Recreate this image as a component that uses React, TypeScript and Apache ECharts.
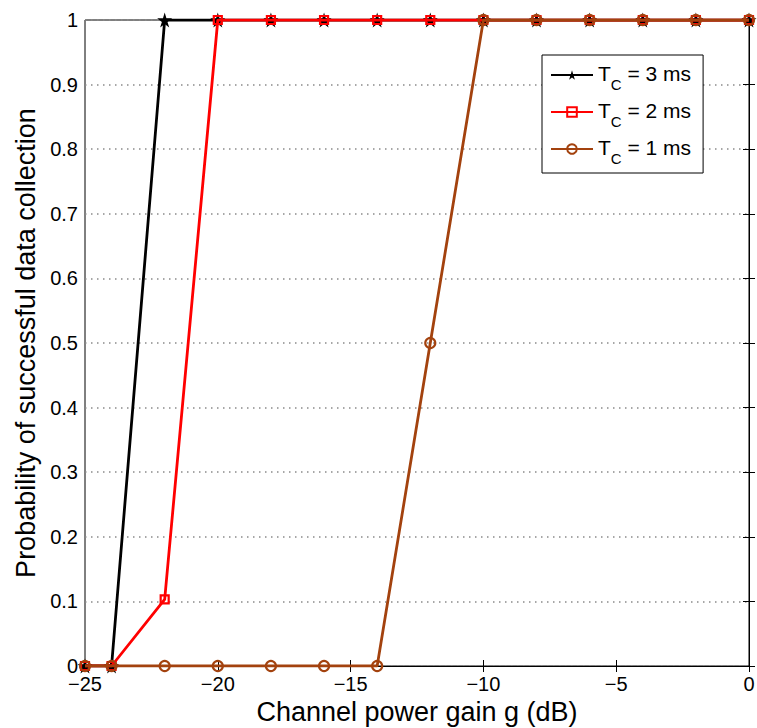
import React, { useEffect, useRef } from "react";
import * as echarts from "echarts";

const xValues = [-25, -24, -22, -20, -18, -16, -14, -12, -10, -8, -6, -4, -2, 0];
const tc3 = [0, 0, 1, 1, 1, 1, 1, 1, 1, 1, 1, 1, 1, 1];
const tc2 = [0, 0, 0.103, 1, 1, 1, 1, 1, 1, 1, 1, 1, 1, 1];
const tc1 = [0, 0, 0, 0, 0, 0, 0, 0.5, 1, 1, 1, 1, 1, 1];
const seriesNames = ["3 ms", "2 ms", "1 ms"];
const xTitle = "Channel power gain g (dB)";
const yTitle = "Probability of successful data collection";

const BLACK = "#000000";
const RED = "#ff0000";
const BROWN = "#a3420e";
const CLEAR = "rgba(255,255,255,0)";
const STAR = "path://M50,0 L61,35 L98,35 L68,57 L79,91 L50,70 L21,91 L32,57 L2,35 L39,35 Z";
const FONT = "Liberation Sans, Arial, Helvetica, sans-serif";

const pairs = (ys: number[]) => xValues.map((x, i) => [x, ys[i]]);
const minus = (v: number) => String(v).replace("-", "\u2212");

export default function App() {
  const ref = useRef<HTMLDivElement>(null);
  useEffect(() => {
    const chart = echarts.init(ref.current!, undefined, { renderer: "svg" });
    const axisCommon = {
      axisLine: { show: true, lineStyle: { color: BLACK, width: 1 } },
      axisTick: { show: true, inside: true, length: 6, lineStyle: { color: BLACK } },
    };
    chart.setOption({
      animation: false,
      backgroundColor: "#ffffff",
      textStyle: { fontFamily: FONT },
      grid: {
        left: 85,
        right: 8,
        top: 20,
        bottom: 62,
        show: true,
        borderColor: BLACK,
        borderWidth: 1,
        containLabel: false,
        outerBoundsMode: "none",
      },
      xAxis: [
        {
          type: "value",
          min: -25,
          max: 0,
          interval: 5,
          ...axisCommon,
          axisLabel: { color: BLACK, fontSize: 20, margin: 8, formatter: minus, fontFamily: FONT },
          splitLine: { show: false },
          name: xTitle,
          nameLocation: "middle",
          nameGap: 29,
          nameTextStyle: { color: BLACK, fontSize: 27, fontFamily: FONT, verticalAlign: "top" },
        },
        {
          type: "value",
          position: "top",
          min: -25,
          max: 0,
          interval: 5,
          ...axisCommon,
          axisLabel: { show: false },
          splitLine: { show: false },
        },
      ],
      yAxis: [
        {
          type: "value",
          min: 0,
          max: 1,
          interval: 0.1,
          ...axisCommon,
          axisLabel: {
            color: BLACK,
            fontSize: 20,
            margin: 7,
            fontFamily: FONT,
            formatter: (v: number) => (v === 0 ? "0" : v === 1 ? "1" : v.toFixed(1)),
          },
          splitLine: { show: true, lineStyle: { color: "#8a8a8a", type: [1.5, 4.5], width: 1.5 } },
          name: yTitle,
          nameLocation: "middle",
          nameGap: 43,
          nameTextStyle: { color: BLACK, fontSize: 27, fontFamily: FONT },
        },
        {
          type: "value",
          position: "right",
          min: 0,
          max: 1,
          interval: 0.1,
          ...axisCommon,
          axisLabel: { show: false },
          splitLine: { show: false },
        },
      ],
      legend: {
        left: 542,
        top: 55,
        orient: "vertical",
        backgroundColor: "#ffffff",
        borderColor: BLACK,
        borderWidth: 1,
        borderRadius: 0,
        padding: [8, 12, 7, 8],
        itemGap: 8,
        itemWidth: 42,
        itemHeight: 12,
        formatter: (name: string) => `{t|T}{s|C}{t| = ${name}}`,
        textStyle: {
          rich: {
            t: { fontSize: 21, color: BLACK, fontFamily: FONT, lineHeight: 24, verticalAlign: "top" },
            s: { fontSize: 15, color: BLACK, fontFamily: FONT, lineHeight: 15, verticalAlign: "top", padding: [14, 0, 0, 0] },
          },
        },
        data: [
          { name: seriesNames[0] },
          { name: seriesNames[1], itemStyle: { color: CLEAR, borderColor: RED, borderWidth: 2 } },
          { name: seriesNames[2], itemStyle: { color: CLEAR, borderColor: BROWN, borderWidth: 2 } },
        ],
      },
      series: [
        {
          name: seriesNames[0],
          type: "line",
          data: pairs(tc3),
          symbol: STAR,
          symbolSize: 15,
          lineStyle: { color: BLACK, width: 2.8 },
          itemStyle: { color: BLACK },
          z: 2,
        },
        {
          name: seriesNames[1],
          type: "line",
          data: pairs(tc2),
          symbol: "rect",
          symbolSize: 8,
          lineStyle: { color: RED, width: 2.8 },
          itemStyle: { color: CLEAR, borderColor: RED, borderWidth: 2.2 },
          z: 3,
        },
        {
          name: seriesNames[2],
          type: "line",
          data: pairs(tc1),
          symbol: "circle",
          symbolSize: 10,
          lineStyle: { color: BROWN, width: 2.8 },
          itemStyle: { color: CLEAR, borderColor: BROWN, borderWidth: 2.2 },
          z: 4,
        },
      ],
    });
    return () => chart.dispose();
  }, []);
  return <div ref={ref} style={{ width: 757, height: 728, position: "absolute", left: 0, top: 0 }} />;
}
